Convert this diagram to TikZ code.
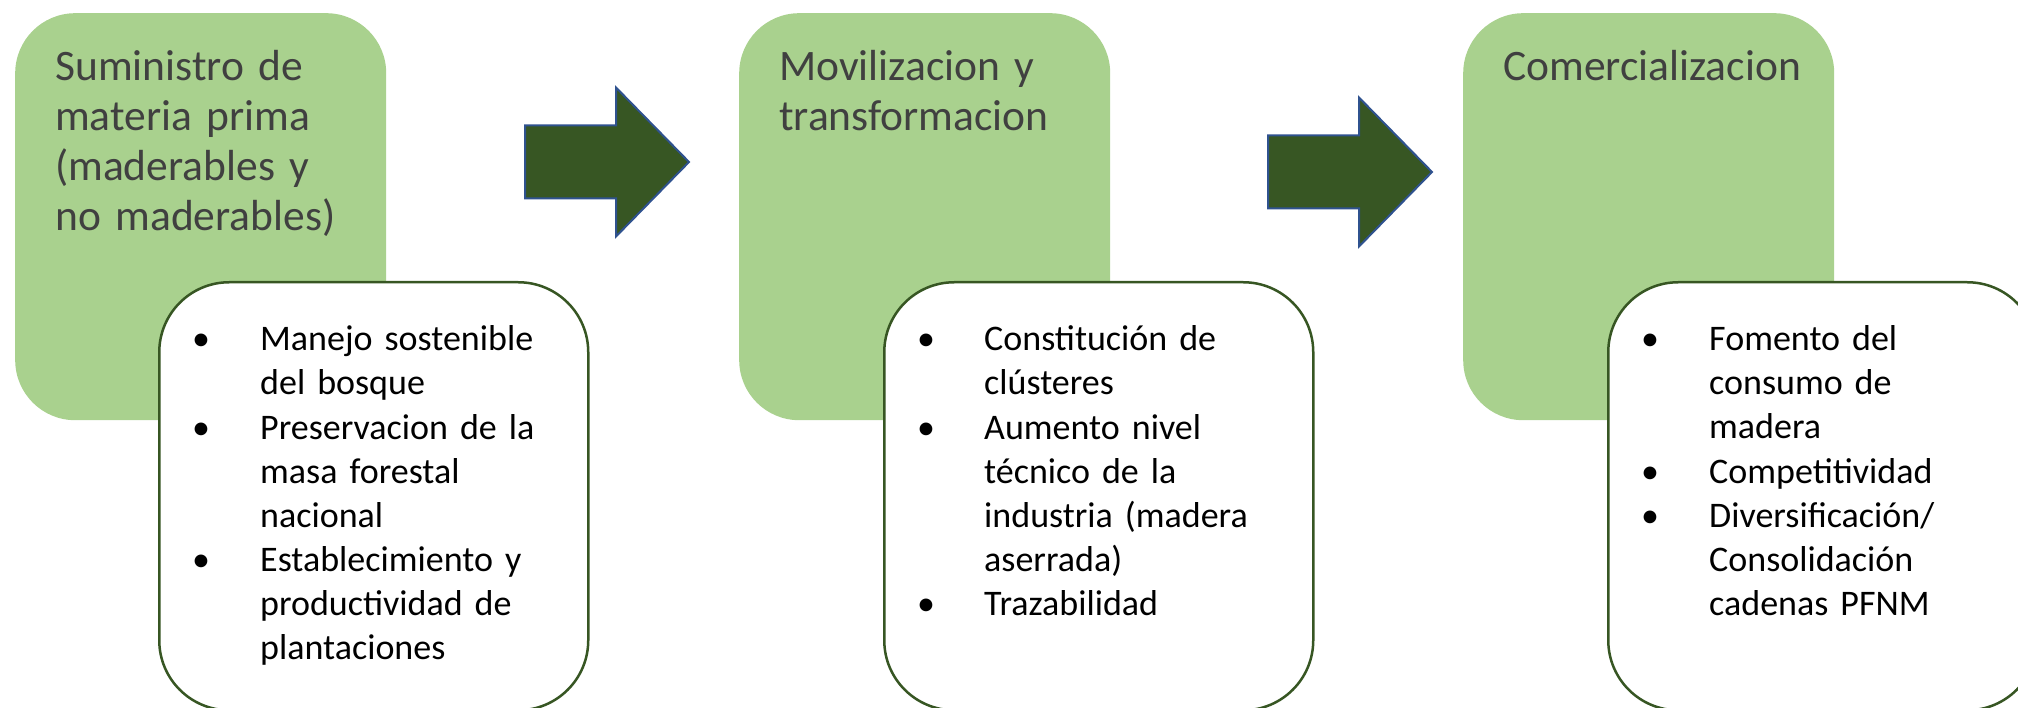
\documentclass[tikz,border=0pt]{standalone}
\usepackage{fontspec}
\setmainfont{Carlito}
\definecolor{stagegreen}{HTML}{A9D18E}
\definecolor{darkgreen}{HTML}{375623}
\definecolor{arrowblue}{HTML}{2F528F}
\definecolor{titlegray}{HTML}{404040}
\begin{document}
\begin{tikzpicture}[x=1pt,y=-1pt,
  stage/.style={fill=stagegreen, draw=none, rounded corners=60pt, anchor=north west,
    minimum width=371pt, minimum height=407pt, inner sep=0pt},
  detail/.style={fill=white, draw=darkgreen, line width=2.5pt, rounded corners=70pt, anchor=north west,
    minimum width=429pt, minimum height=428pt, inner sep=0pt},
  flow/.style={fill=darkgreen, draw=arrowblue, line width=2pt, line join=miter},
  titletext/.style={anchor=base west, inner sep=0pt, align=left, text width=340pt, text=titlegray,
    font=\fontsize{43.5}{50}\selectfont},
  itemtext/.style={anchor=base west, inner sep=0pt, align=left, text width=320pt, text=black,
    font=\fontsize{36}{44}\selectfont},
  bulletmark/.style={anchor=base, inner sep=0pt, text=black, font=\fontsize{36}{44}\selectfont}
]
\useasboundingbox (0,0) rectangle (2018,708);
\clip (0,0) rectangle (2018,708);

% stage boxes
\node[stage] (g1) at (15,13) {};
\node[stage] (g2) at (739,13) {};
\node[stage] (g3) at (1463,13) {};

% block arrows
\coordinate (a1) at (525,162);
\coordinate (a2) at (1268,172);
\foreach \a in {a1,a2}{
  \draw[flow] (\a) ++(0,-36.5) -- ++(91,0) -- ++(0,-38) -- ++(73,74.5) -- ++(-73,74.5) -- ++(0,-38) -- ++(-91,0) -- cycle;
}

% titles
\node[titletext] (t1) at (55,81) {Suministro de\\materia prima\\(maderables y\\no maderables)};
\node[titletext] (t2) at (779,81) {Movilizacion y\\transformacion};
\node[titletext] (t3) at (1503,81) {Comercializacion};

% detail boxes
\node[detail] (w1) at (158,281) {};
\node[detail] (w2) at (883,281) {};
\node[detail] (w3) at (1607,281) {};

% box 1 items
\node[bulletmark] (b11) at (201,351) {•};
\node[itemtext] (i11) at (260,351) {Manejo sostenible\\del bosque};
\node[bulletmark] (b12) at (201,439) {•};
\node[itemtext] (i12) at (260,439) {Preservacion de la\\masa forestal\\nacional};
\node[bulletmark] (b13) at (201,571) {•};
\node[itemtext] (i13) at (260,571) {Establecimiento y\\productividad de\\plantaciones};

% box 2 items
\node[bulletmark] (b21) at (926,351) {•};
\node[itemtext] (i21) at (984,351) {Constitución de\\clústeres};
\node[bulletmark] (b22) at (926,439) {•};
\node[itemtext] (i22) at (984,439) {Aumento nivel\\técnico de la\\industria (madera\\aserrada)};
\node[bulletmark] (b23) at (926,615) {•};
\node[itemtext] (i23) at (984,615) {Trazabilidad};

% box 3 items
\node[bulletmark] (b31) at (1650,351) {•};
\node[itemtext] (i31) at (1709,351) {Fomento del\\consumo de\\madera};
\node[bulletmark] (b32) at (1650,483) {•};
\node[itemtext] (i32) at (1709,483) {Competitividad};
\node[bulletmark] (b33) at (1650,527) {•};
\node[itemtext] (i33) at (1709,527) {Diversificación/\\Consolidación\\cadenas PFNM};
\end{tikzpicture}
\end{document}
